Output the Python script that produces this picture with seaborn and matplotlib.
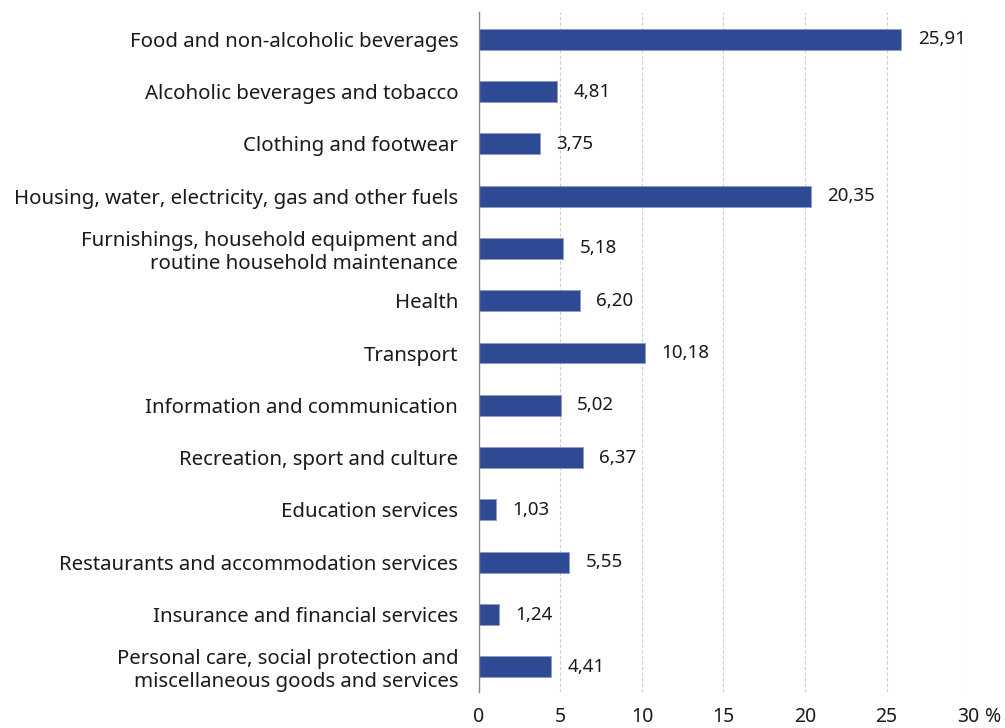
import pandas as pd
import matplotlib.pyplot as plt
import seaborn as sns

categories = [
    "Food and non-alcoholic beverages",
    "Alcoholic beverages and tobacco",
    "Clothing and footwear",
    "Housing, water, electricity, gas and other fuels",
    "Furnishings, household equipment and\nroutine household maintenance",
    "Health",
    "Transport",
    "Information and communication",
    "Recreation, sport and culture",
    "Education services",
    "Restaurants and accommodation services",
    "Insurance and financial services",
    "Personal care, social protection and\nmiscellaneous goods and services",
]
shares = [25.91, 4.81, 3.75, 20.35, 5.18, 6.20, 10.18, 5.02, 6.37, 1.03, 5.55, 1.24, 4.41]
x_ticks = [0, 5, 10, 15, 20, 25, 30]
x_tick_labels = ["0", "5", "10", "15", "20", "25", "30"]
unit = "%"

sns.set_theme(style="white")
plt.rcParams['font.family'] = ['Noto Sans', 'DejaVu Sans']

df = pd.DataFrame({"category": categories, "share": shares})

fig = plt.figure(figsize=(10.05, 7.28), dpi=100)
ax = fig.add_axes([0.4766, 0.0495, 0.4866, 0.934])

sns.barplot(data=df, y="category", x="share", orient="h", color="#2F4A94",
            width=0.4, edgecolor="#8C9CC8", linewidth=0.6, saturation=1, ax=ax)

for i, v in enumerate(shares):
    ax.text(v + 1.0, i, f"{v:.2f}".replace(".", ","), va="center", ha="left",
            fontsize=13.5, color="#1a1a1a")

ax.set_xlim(0, 30)
ax.set_ylim(12.48, -0.52)
ax.set_xticks(x_ticks)
ax.set_xticklabels(x_tick_labels, fontsize=14, color="#1a1a1a")
ax.tick_params(axis="x", length=0, pad=11)
ax.tick_params(axis="y", length=0, pad=15, labelsize=14.7, labelcolor="#1a1a1a")
for lbl in ax.get_yticklabels():
    lbl.set_horizontalalignment("right")
    lbl.set_multialignment("right")
ax.set_xlabel("")
ax.set_ylabel("")

# unit sign next to the last tick label
ax.annotate(unit, xy=(30, 0), xycoords=ax.get_xaxis_transform(),
            xytext=(12, -11), textcoords="offset points",
            ha="left", va="top", fontsize=14, color="#1a1a1a", annotation_clip=False)

ax.grid(False)
for x in x_ticks[1:]:
    ax.axvline(x, color="#cccccc", linestyle=(0, (3, 2)), linewidth=0.8, zorder=0)

for side in ["top", "right", "bottom"]:
    ax.spines[side].set_visible(False)
ax.spines["left"].set_color("#888888")
ax.spines["left"].set_linewidth(1.0)

fig.savefig("out.png", dpi=100)
